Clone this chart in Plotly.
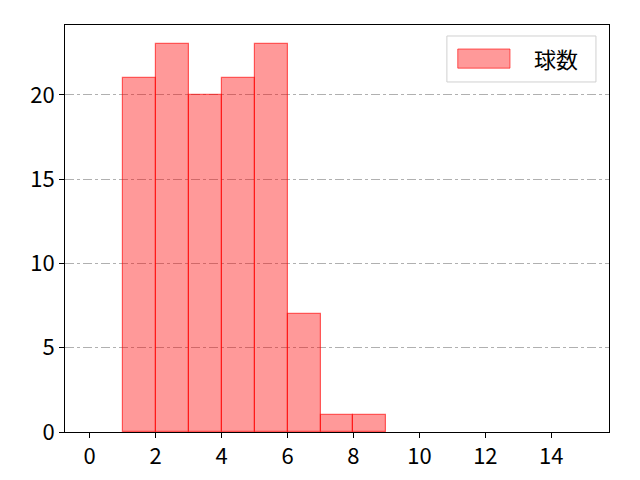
import plotly.graph_objects as go

# ヒストグラムのビン(左端)と度数
bin_left = [1, 2, 3, 4, 5, 6, 7, 8]
counts = [21, 23, 20, 21, 23, 7, 1, 1]
label = "球数"

x_ticks = [0, 2, 4, 6, 8, 10, 12, 14]
y_ticks = [0, 5, 10, 15, 20]

FONT = "Noto Sans CJK JP"

fig = go.Figure()
fig.add_trace(go.Bar(
    x=bin_left, y=counts, width=1, offset=0, name=label,
    marker=dict(color="rgba(255,0,0,0.4)",
                line=dict(color="rgba(255,0,0,0.6)", width=1.2)),
    showlegend=False,
))

# ページ本体の 8px 余白を差し引いたマージン
fig.update_layout(
    width=640, height=480,
    margin=dict(l=57, r=39, t=17, b=56),
    paper_bgcolor="white", plot_bgcolor="white",
    font=dict(family=FONT, size=22, color="black"),
    bargap=0,
)
fig.update_xaxes(
    range=[-0.75, 15.75], tickvals=x_ticks, ticks="outside", ticklen=5,
    tickcolor="black", showline=True, linecolor="black", linewidth=1,
    mirror=True, showgrid=False, zeroline=False,
    tickfont=dict(family=FONT, size=22),
)
fig.update_yaxes(
    range=[0, 24.15], tickvals=y_ticks, ticks="outside", ticklen=5,
    tickcolor="black", showline=True, linecolor="black", linewidth=1,
    mirror=True, showgrid=True, gridcolor="#b0b0b0", gridwidth=0.8,
    griddash="dashdot", zeroline=False,
    tickfont=dict(family=FONT, size=22),
)

# 凡例(matplotlib風)
fig.add_shape(type="rect", xref="paper", yref="paper",
              x0=0.702, x1=0.976, y0=0.860, y1=0.973,
              line=dict(color="#d0d0d0", width=1), fillcolor="rgba(255,255,255,0.8)")
fig.add_shape(type="rect", xref="paper", yref="paper",
              x0=0.722, x1=0.818, y0=0.894, y1=0.941,
              line=dict(color="rgba(255,0,0,0.6)", width=1), fillcolor="rgba(255,0,0,0.4)")
fig.add_annotation(text=label, xref="paper", yref="paper", x=0.858, y=0.918,
                   xanchor="left", yanchor="middle", showarrow=False,
                   font=dict(family=FONT, size=22, color="black"))

fig.write_html("out.html")
